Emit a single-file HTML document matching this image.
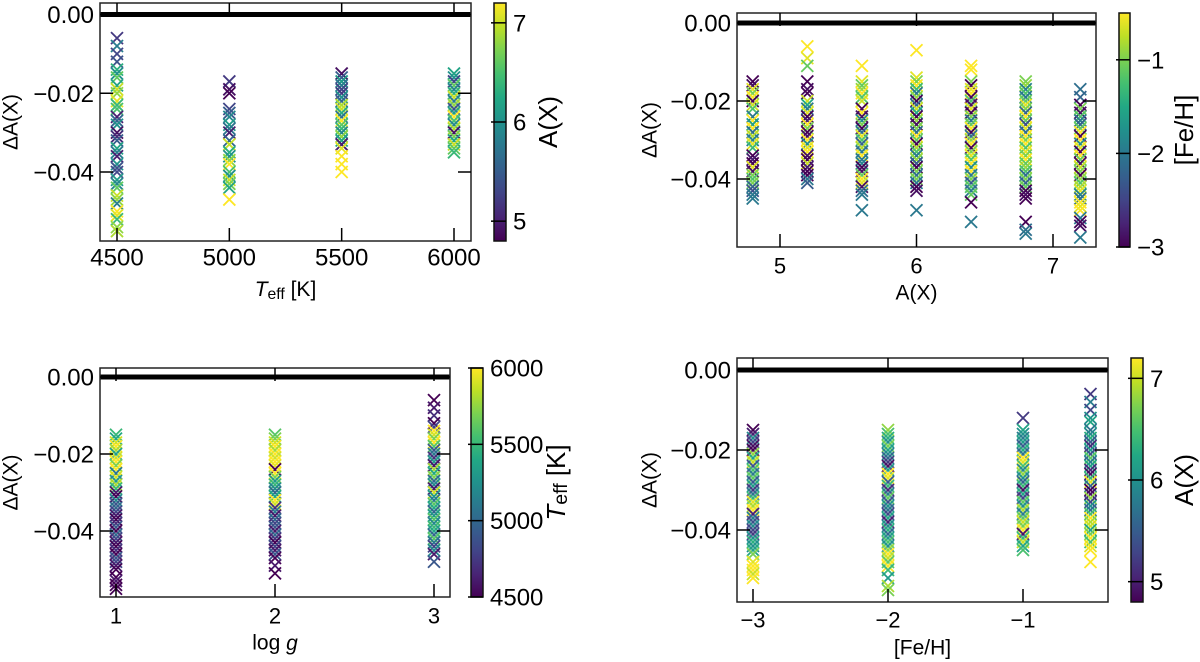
<!DOCTYPE html>
<html><head><meta charset="utf-8"><style>
html,body{margin:0;padding:0;background:#fff;}
svg{display:block;font-family:"Liberation Sans","DejaVu Sans",sans-serif;}
</style></head><body>
<svg id="fig" width="1200" height="662" viewBox="0 0 1200 662" xmlns="http://www.w3.org/2000/svg"></svg>
<script>
// ---------- Panel 1: dA vs Teff, colour A(X)
const p1X = [4500, 5000, 5500, 6000];
const p1Y = [
 [-0.006,-0.008,-0.010,-0.012,-0.014,-0.015,-0.016,-0.018,-0.019,-0.020,-0.022,-0.023,-0.024,-0.026,-0.027,-0.028,-0.030,-0.031,-0.032,-0.034,-0.035,-0.036,-0.038,-0.039,-0.040,-0.042,-0.043,-0.044,-0.046,-0.047,-0.048,-0.050,-0.051,-0.052,-0.054,-0.055],
 [-0.017,-0.019,-0.020,-0.024,-0.025,-0.026,-0.028,-0.029,-0.030,-0.032,-0.033,-0.035,-0.036,-0.037,-0.038,-0.040,-0.041,-0.042,-0.043,-0.044,-0.047],
 [-0.015,-0.016,-0.017,-0.018,-0.019,-0.020,-0.021,-0.022,-0.023,-0.024,-0.025,-0.026,-0.027,-0.028,-0.029,-0.030,-0.031,-0.032,-0.033,-0.034,-0.036,-0.038,-0.040],
 [-0.015,-0.016,-0.017,-0.018,-0.019,-0.020,-0.021,-0.022,-0.023,-0.024,-0.025,-0.026,-0.027,-0.028,-0.029,-0.030,-0.031,-0.032,-0.033,-0.034,-0.035]
];
const p1C = [
 [5.2,5.8,5.3,5.4,6.3,6.0,6.6,6.2,7.0,6.8,7.1,6.4,6.5,5.0,5.6,6.0,4.9,5.1,5.5,6.2,5.8,5.0,6.0,5.4,5.3,6.1,5.9,6.6,7.0,6.8,5.8,7.2,7.1,6.4,6.8,6.9],
 [5.2,4.9,4.8,5.3,5.5,5.9,6.1,5.7,5.0,5.6,7.0,6.3,6.0,6.8,7.2,6.5,6.0,7.0,6.7,6.2,7.2],
 [4.9,5.5,6.1,5.8,5.3,5.2,6.0,5.6,6.9,7.0,6.3,5.7,7.2,6.6,6.4,5.9,6.8,6.2,5.0,7.1,7.2,7.2,7.2],
 [6.2,6.0,5.3,6.6,5.9,6.3,7.0,5.8,6.8,5.4,6.1,7.2,6.5,5.9,6.9,4.9,6.7,6.2,7.0,6.6,6.4]
];
const p1XTicks = [4500, 5000, 5500, 6000];
const p1YTicks = [0, -0.02, -0.04];
const p1YTickLabels = ["0.00", "\u22120.02", "\u22120.04"];
const p1CTicks = [5, 6, 7];

// ---------- Panel 2: dA vs A(X), colour [Fe/H]
const p2X = [4.8, 5.2, 5.6, 6.0, 6.4, 6.8, 7.2];
const p2Y = [
 [-0.015,-0.016,-0.017,-0.018,-0.019,-0.020,-0.021,-0.022,-0.024,-0.025,-0.026,-0.027,-0.028,-0.029,-0.030,-0.031,-0.032,-0.034,-0.035,-0.036,-0.037,-0.038,-0.039,-0.040,-0.041,-0.042,-0.043,-0.044,-0.045],
 [-0.006,-0.009,-0.011,-0.015,-0.017,-0.018,-0.020,-0.021,-0.022,-0.023,-0.024,-0.025,-0.026,-0.027,-0.028,-0.029,-0.030,-0.031,-0.032,-0.033,-0.034,-0.035,-0.036,-0.037,-0.038,-0.039,-0.040,-0.041],
 [-0.011,-0.015,-0.016,-0.017,-0.018,-0.019,-0.020,-0.022,-0.023,-0.024,-0.025,-0.026,-0.027,-0.028,-0.029,-0.030,-0.031,-0.032,-0.033,-0.034,-0.035,-0.036,-0.037,-0.038,-0.039,-0.040,-0.041,-0.042,-0.043,-0.044,-0.048],
 [-0.007,-0.014,-0.015,-0.016,-0.017,-0.018,-0.019,-0.020,-0.021,-0.022,-0.023,-0.024,-0.025,-0.026,-0.027,-0.028,-0.029,-0.030,-0.031,-0.032,-0.033,-0.034,-0.035,-0.036,-0.037,-0.038,-0.039,-0.040,-0.041,-0.042,-0.043,-0.048],
 [-0.011,-0.012,-0.015,-0.016,-0.017,-0.018,-0.019,-0.020,-0.021,-0.022,-0.023,-0.024,-0.025,-0.026,-0.027,-0.028,-0.029,-0.030,-0.031,-0.032,-0.033,-0.034,-0.035,-0.036,-0.037,-0.038,-0.039,-0.040,-0.041,-0.042,-0.043,-0.044,-0.046,-0.051],
 [-0.015,-0.016,-0.017,-0.018,-0.019,-0.020,-0.021,-0.022,-0.023,-0.024,-0.025,-0.026,-0.027,-0.028,-0.029,-0.030,-0.031,-0.032,-0.033,-0.034,-0.035,-0.036,-0.037,-0.038,-0.039,-0.040,-0.041,-0.042,-0.043,-0.044,-0.045,-0.051,-0.053,-0.054],
 [-0.017,-0.019,-0.021,-0.022,-0.023,-0.024,-0.025,-0.026,-0.027,-0.028,-0.029,-0.030,-0.031,-0.032,-0.033,-0.034,-0.035,-0.036,-0.037,-0.038,-0.039,-0.040,-0.041,-0.042,-0.043,-0.044,-0.045,-0.046,-0.047,-0.048,-0.050,-0.051,-0.052,-0.055]
];
const p2C = [
 [-3,-2.9,-0.6,-1.0,-0.5,-3,-0.7,-1.2,-2.0,-0.5,-1.6,-0.5,-2.1,-0.8,-1.9,-0.6,-1.3,-3,-2.8,-3,-0.6,-2.9,-1.0,-1.2,-1.0,-2.2,-2.4,-2.0,-2.0],
 [-0.5,-0.6,-1.1,-3,-2.9,-3,-0.7,-1.5,-2.0,-0.6,-3,-2.8,-0.5,-1.0,-3,-2.9,-0.5,-1.8,-0.6,-0.5,-2.9,-3,-0.7,-2.8,-3,-3,-2.0,-2.3],
 [-0.5,-0.6,-1.1,-0.9,-0.5,-1.2,-0.7,-3,-0.5,-2.9,-1.8,-1.0,-3,-2.1,-0.6,-1.2,-2.2,-0.8,-2.0,-0.5,-2.0,-1.9,-3,-2.9,-1.1,-0.5,-0.6,-2.9,-2.1,-2.0,-2.0],
 [-0.5,-0.6,-1.0,-0.5,-1.3,-2.0,-0.9,-3,-2.2,-0.7,-1.5,-3,-0.9,-2.9,-1.0,-2.1,-0.5,-1.1,-3,-0.8,-1.2,-2.0,-0.9,-2.3,-3,-1.0,-2.1,-1.0,-2.0,-3,-2.9,-2.0],
 [-0.5,-0.5,-1.0,-3,-0.6,-0.5,-3,-1.2,-2.9,-0.6,-3,-1.0,-2.0,-1.1,-0.5,-3,-2.1,-0.9,-0.5,-3,-1.0,-0.6,-1.2,-0.5,-1.8,-0.5,-2.0,-1.0,-2.3,-1.2,-2.0,-1.1,-3,-2.0],
 [-1.0,-0.9,-1.9,-1.2,-2.0,-1.1,-0.6,-1.0,-2.2,-0.5,-1.1,-2.4,-0.6,-2.1,-0.5,-1.0,-0.5,-1.2,-0.6,-1.0,-0.5,-1.1,-0.9,-1.2,-2.1,-1.0,-2.2,-1.1,-3,-2.9,-3,-3,-2.1,-2.0],
 [-2.1,-2.2,-3,-1.0,-2.9,-1.2,-2.0,-2.2,-1.1,-0.5,-3,-0.5,-1.8,-0.6,-3,-0.5,-1.1,-2.9,-0.7,-1.0,-3,-0.9,-1.2,-0.8,-0.6,-1.9,-2.1,-0.5,-0.6,-0.5,-2.0,-3,-2.9,-2.0]
];
const p2XTicks = [5, 6, 7];
const p2YTicks = [0, -0.02, -0.04];
const p2YTickLabels = ["0.00", "\u22120.02", "\u22120.04"];
const p2CTicks = [-3, -2, -1];
const p2CTickLabels = ["\u22123", "\u22122", "\u22121"];

// ---------- Panel 3: dA vs log g, colour Teff
const p3X = [1, 2, 3];
const p3Y = [
 [-0.015,-0.016,-0.017,-0.018,-0.019,-0.020,-0.021,-0.022,-0.023,-0.024,-0.025,-0.026,-0.027,-0.028,-0.029,-0.030,-0.031,-0.032,-0.033,-0.034,-0.035,-0.036,-0.037,-0.038,-0.039,-0.040,-0.041,-0.042,-0.043,-0.044,-0.045,-0.046,-0.047,-0.048,-0.049,-0.050,-0.052,-0.053,-0.054,-0.055],
 [-0.015,-0.016,-0.017,-0.018,-0.019,-0.020,-0.021,-0.022,-0.023,-0.024,-0.025,-0.026,-0.027,-0.028,-0.029,-0.030,-0.031,-0.032,-0.033,-0.034,-0.035,-0.036,-0.037,-0.038,-0.039,-0.040,-0.041,-0.042,-0.043,-0.044,-0.045,-0.046,-0.047,-0.049,-0.051],
 [-0.006,-0.008,-0.010,-0.012,-0.013,-0.014,-0.015,-0.016,-0.017,-0.018,-0.019,-0.020,-0.021,-0.022,-0.023,-0.024,-0.025,-0.026,-0.027,-0.028,-0.029,-0.030,-0.031,-0.032,-0.033,-0.034,-0.035,-0.036,-0.037,-0.038,-0.039,-0.040,-0.041,-0.042,-0.043,-0.044,-0.045,-0.046,-0.048]
];
const p3C = [
 [5500,5400,5900,6000,5800,5350,5900,6000,5700,6000,5100,5900,5300,5800,5500,4600,4500,5200,4900,5000,4800,4600,4500,4700,4900,4500,5000,4800,4600,4500,4700,4500,4900,4800,4600,4500,4500,4600,4500,4500],
 [5600,5700,5900,6000,5800,6000,5900,6000,5950,4500,6000,5700,5300,5500,5200,5000,5400,6000,5900,4700,5100,4600,5000,4800,4900,4600,5000,4700,4500,4800,4600,4900,4500,4600,4500],
 [4500,4600,4700,4500,4800,6000,5900,5700,6000,5600,4900,5100,4700,5300,4600,5800,5400,5700,5000,5200,4600,5900,5300,5100,5600,5400,5000,5300,5600,5200,5500,5400,5000,5600,5100,4800,5200,4600,4900]
];
const p3XTicks = [1, 2, 3];
const p3YTicks = [0, -0.02, -0.04];
const p3YTickLabels = ["0.00", "\u22120.02", "\u22120.04"];
const p3CTicks = [4500, 5000, 5500, 6000];

// ---------- Panel 4: dA vs [Fe/H], colour A(X)
const p4X = [-3, -2, -1, -0.5];
const p4Y = [
 [-0.015,-0.016,-0.017,-0.018,-0.019,-0.020,-0.021,-0.022,-0.023,-0.024,-0.025,-0.026,-0.027,-0.028,-0.029,-0.030,-0.031,-0.032,-0.033,-0.034,-0.035,-0.036,-0.037,-0.038,-0.039,-0.040,-0.041,-0.042,-0.043,-0.044,-0.045,-0.046,-0.048,-0.049,-0.050,-0.051,-0.052],
 [-0.015,-0.016,-0.017,-0.018,-0.019,-0.020,-0.021,-0.022,-0.023,-0.024,-0.025,-0.026,-0.027,-0.028,-0.029,-0.030,-0.031,-0.032,-0.033,-0.034,-0.035,-0.036,-0.037,-0.038,-0.039,-0.040,-0.041,-0.042,-0.043,-0.044,-0.045,-0.046,-0.047,-0.048,-0.049,-0.050,-0.052,-0.054,-0.055],
 [-0.012,-0.015,-0.016,-0.017,-0.018,-0.019,-0.020,-0.021,-0.022,-0.023,-0.024,-0.025,-0.026,-0.027,-0.028,-0.029,-0.030,-0.031,-0.032,-0.033,-0.034,-0.035,-0.036,-0.037,-0.038,-0.039,-0.040,-0.041,-0.042,-0.043,-0.044,-0.045],
 [-0.006,-0.008,-0.010,-0.012,-0.013,-0.015,-0.016,-0.017,-0.018,-0.019,-0.020,-0.021,-0.022,-0.023,-0.024,-0.025,-0.026,-0.027,-0.028,-0.029,-0.030,-0.031,-0.032,-0.033,-0.034,-0.035,-0.036,-0.037,-0.038,-0.039,-0.040,-0.041,-0.042,-0.043,-0.044,-0.045,-0.048]
];
const p4C = [
 [4.8,5.0,5.9,5.3,4.9,4.8,6.8,6.2,7.0,5.4,6.5,5.8,6.6,5.5,6.1,5.2,5.7,6.4,7.1,6.9,7.2,5.0,5.8,5.4,5.9,5.3,5.2,6.0,6.3,6.0,6.2,6.7,7.1,7.2,7.2,7.0,7.2],
 [6.8,6.5,6.3,6.0,6.7,6.2,5.9,5.6,5.2,4.9,6.1,7.2,7.1,5.5,6.4,5.1,5.8,6.6,5.4,6.0,5.7,5.3,6.2,5.0,5.9,6.3,5.6,6.1,6.5,6.0,6.8,7.2,7.0,6.6,7.2,6.4,6.1,6.9,6.7],
 [5.2,6.2,6.0,5.8,6.1,5.5,6.3,5.7,7.2,7.1,6.5,5.9,6.8,6.0,5.6,6.4,4.9,6.2,5.3,6.6,6.0,6.9,5.8,6.6,7.0,6.7,7.2,4.9,6.4,7.0,6.2,6.5],
 [5.2,5.8,5.3,6.0,6.2,5.7,5.9,6.3,5.5,5.1,6.1,5.4,6.6,5.8,6.2,5.1,4.9,6.4,7.1,5.6,4.8,4.9,6.8,5.3,6.0,5.7,6.5,7.2,6.9,7.0,6.2,6.7,7.2,6.5,7.1,7.2,7.2]
];
const p4XTicks = [-3, -2, -1];
const p4XTickLabels = ["\u22123", "\u22122", "\u22121"];
const p4YTicks = [0, -0.02, -0.04];
const p4YTickLabels = ["0.00", "\u22120.02", "\u22120.04"];
const p4CTicks = [5, 6, 7];

const NS = "http://www.w3.org/2000/svg";
const svg = document.getElementById('fig');
const VIR = [[68,1,84],[72,36,117],[65,68,135],[53,95,141],[42,120,142],[33,145,140],[34,168,132],[68,191,112],[122,209,81],[189,223,38],[253,231,37]];
function viridis(t){
  t = Math.max(0, Math.min(1, t));
  const f = t*(VIR.length-1), i = Math.min(Math.floor(f), VIR.length-2), r = f-i;
  const c = VIR[i].map((v,k)=>Math.round(v+(VIR[i+1][k]-v)*r));
  return 'rgb('+c.join(',')+')';
}
function el(tag, attrs, parent){
  const e = document.createElementNS(NS, tag);
  for (const k in attrs) e.setAttribute(k, attrs[k]);
  (parent||svg).appendChild(e);
  return e;
}
function lin(d0,d1,r0,r1){ return v => r0 + (v-d0)*(r1-r0)/(d1-d0); }

function panel(g){
  const grp = el('g', {});
  
  
  const sx = lin(g.xd[0], g.xd[1], g.xr[0], g.xr[1]);
  const sy = lin(0, -0.04, g.y0, g.y4);
  const sc = lin(g.cd[0], g.cd[1], 0, 1);
  const sg = el('g', {}, grp);
  
  
  g.X.forEach((xv, i) => {
    g.Y[i].forEach((yv, j) => {
      const cx = sx(xv), cy = sy(yv), h = 6;
      const col = viridis(sc(g.C[i][j]));
      const m = el('path', {d:`M${cx-h},${cy-h}L${cx+h},${cy+h}M${cx-h},${cy+h}L${cx+h},${cy-h}`, stroke:col, 'stroke-width':1.8, fill:'none'}, sg);
      
      
    });
  });
  const zl = el('line', {x1:g.L, x2:g.R, y1:sy(0), y2:sy(0), stroke:'#000', 'stroke-width':5}, grp);
  
  
  const fr = el('rect', {x:g.L, y:g.T, width:g.R-g.L, height:g.B-g.T, fill:'none', stroke:'#222', 'stroke-width':1.5}, grp);
  
  
  const tl = 13;
  g.xt.forEach((v, i) => {
    const x = sx(v);
    el('line', {x1:x, x2:x, y1:g.B, y2:g.B-tl, stroke:'#000', 'stroke-width':1.5}, grp);
    el('line', {x1:x, x2:x, y1:g.T, y2:g.T+tl, stroke:'#000', 'stroke-width':1.5}, grp);
    const t = el('text', {x:x, y:g.B+g.xlabY, 'font-size':g.xfs, 'text-anchor':'middle', 'dominant-baseline':'central'}, grp);
    t.textContent = g.xtl ? g.xtl[i] : String(v);
    
    
  });
  g.yt.forEach((v, i) => {
    const y = sy(v);
    el('line', {x1:g.L, x2:g.L+tl, y1:y, y2:y, stroke:'#000', 'stroke-width':1.5}, grp);
    el('line', {x1:g.R, x2:g.R-tl, y1:y, y2:y, stroke:'#000', 'stroke-width':1.5}, grp);
    const t = el('text', {x:g.L-6, y:y+1, 'font-size':24, 'text-anchor':'end', 'dominant-baseline':'central'}, grp);
    t.textContent = g.ytl[i];
    
    
  });
  const yl = el('text', {x:0, y:0, 'font-size':21, 'text-anchor':'middle', 'dominant-baseline':'central', transform:`translate(${g.ylx},${(g.T+g.B)/2}) rotate(-90)`}, grp);
  yl.textContent = '\u0394A(X)';
  
  
  const xl = el('text', {x:(g.L+g.R)/2, y:g.xtY, 'font-size':21, 'text-anchor':'middle', 'dominant-baseline':'central'}, grp);
  xl.innerHTML = g.xtitle;
  
  
  const gid = 'grad' + g.name;
  const defs = el('defs', {}, grp);
  const lg = el('linearGradient', {id:gid, x1:0, y1:1, x2:0, y2:0}, defs);
  for (let k = 0; k <= 10; k++) el('stop', {offset:k/10, 'stop-color':viridis(k/10)}, lg);
  const cb = el('rect', {x:g.cbx, y:g.T, width:g.cbw, height:g.B-g.T, fill:`url(#${gid})`, stroke:'#111', 'stroke-width':1.5}, grp);
  
  
  const scy = lin(g.cd[0], g.cd[1], g.B, g.T);
  g.ct.forEach((v, i) => {
    const y = scy(v);
    el('line', {x1:g.cbx-3, x2:g.cbx+g.cbw, y1:y, y2:y, stroke:'#000', 'stroke-width':1.5}, grp);
    const t = el('text', {x:g.cbx+g.cbw+7, y:y+1, 'font-size':g.cfs, 'dominant-baseline':'central'}, grp);
    t.textContent = g.ctl ? g.ctl[i] : String(v);
    
    
  });
  const ct = el('text', {x:0, y:0, 'font-size':26, 'text-anchor':'middle', 'dominant-baseline':'central', transform:`translate(${g.ctx},${(g.T+g.B)/2}) rotate(-90)`}, grp);
  ct.innerHTML = g.ctitle;
  
  
}

const teff = '<tspan font-style="italic">T</tspan><tspan font-size="0.75em" dy="5">eff</tspan><tspan dy="-5"> [K]</tspan>';

panel({name:'panel-teff', X:p1X, Y:p1Y, C:p1C, xd:[4500,6000], xr:[117,454], y0:14.5, y4:172,
  L:100, R:471, T:3, B:241, cd:[4.8,7.2], xt:p1XTicks, yt:p1YTicks, ytl:p1YTickLabels, xfs:24, xlabY:17,
  ylx:11, xtY:289, xtitle:teff, cbx:494, cbw:12, ct:p1CTicks, cfs:24, ctx:548, ctitle:'A(X)'});

panel({name:'panel-ax', X:p2X, Y:p2Y, C:p2C, xd:[5,7], xr:[780,1053], y0:23, y4:179,
  L:737, R:1096, T:13, B:247, cd:[-3,-0.5], xt:p2XTicks, yt:p2YTicks, ytl:p2YTickLabels, xfs:22, xlabY:19,
  ylx:650, xtY:293, xtitle:'A(X)', cbx:1119, cbw:11, ct:p2CTicks, ctl:p2CTickLabels, cfs:24, ctx:1184, ctitle:'[Fe/H]'});

panel({name:'panel-logg', X:p3X, Y:p3Y, C:p3C, xd:[1,3], xr:[116,434], y0:377, y4:531,
  L:100, R:450, T:368, B:597, cd:[4500,6000], xt:p3XTicks, yt:p3YTicks, ytl:p3YTickLabels, xfs:22, xlabY:19,
  ylx:11, xtY:643, xtitle:'log <tspan font-style="italic">g</tspan>', cbx:471, cbw:12, ct:p3CTicks, cfs:24, ctx:556, ctitle:teff});

panel({name:'panel-feh', X:p4X, Y:p4Y, C:p4C, xd:[-3,-1], xr:[753,1023], y0:370, y4:530,
  L:737, R:1108, T:358, B:602, cd:[4.8,7.2], xt:p4XTicks, xtl:p4XTickLabels, yt:p4YTicks, ytl:p4YTickLabels, xfs:22, xlabY:18,
  ylx:650, xtY:648, xtitle:'[Fe/H]', cbx:1131, cbw:12, ct:p4CTicks, cfs:24, ctx:1184, ctitle:'A(X)'});
</script>
</body></html>
